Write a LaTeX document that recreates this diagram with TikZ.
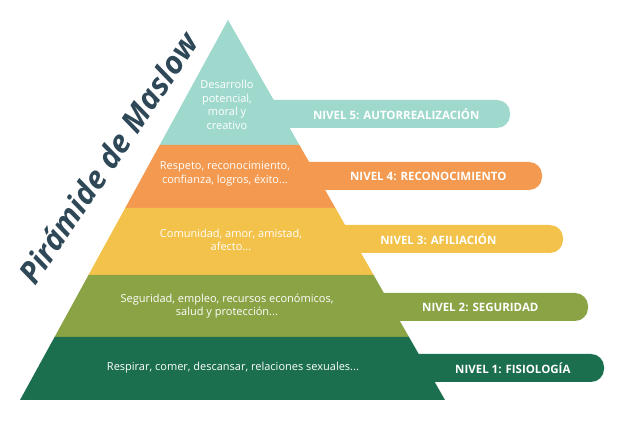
\documentclass[tikz,border=0pt]{standalone}
\usepackage{fontspec}
\setmainfont{Open Sans}
\begin{document}
\begin{tikzpicture}[x=1pt,y=-1pt,
  pill/.style={fill=#1,rounded corners=13pt,draw=none},
  lbl/.style={text=white,font=\bfseries\fontsize{11.5}{13}\selectfont,anchor=east},
  txt/.style={text=white,font=\fontsize{11}{13.5}\selectfont,align=center,inner sep=1pt}]
\definecolor{c5}{HTML}{9FD9CD}
\definecolor{c4}{HTML}{F39A50}
\definecolor{c3}{HTML}{F2C24A}
\definecolor{c2}{HTML}{8AA345}
\definecolor{c1}{HTML}{1B6E4E}
\definecolor{ttl}{HTML}{2E4858}
\fill[white] (0,0) rectangle (640,427);
\useasboundingbox (0,0) rectangle (640,427);
% pills
\fill[pill=c5] (250,100) rectangle (510,128);
\fill[pill=c4] (290,162) rectangle (542,190);
\fill[pill=c3] (320,225) rectangle (563,253);
\fill[pill=c2] (350,293) rectangle (588,321);
\fill[pill=c1] (390,354) rectangle (604,382);
% pyramid layers
\coordinate (apex) at (228,20);
\fill[c5] (apex) -- (159.7,145) -- (299.4,145) -- cycle;
\fill[c4] (159.7,145) -- (125.2,208) -- (335.4,208) -- (299.4,145) -- cycle;
\fill[c3] (125.2,208) -- (88.5,275) -- (373.6,275) -- (335.4,208) -- cycle;
\fill[c2] (88.5,275) -- (54.6,337) -- (409.0,337) -- (373.6,275) -- cycle;
\fill[c1] (54.6,337) -- (20,400) -- (445,400) -- (409.0,337) -- cycle;
% texts
\node[txt] (t5) at (227,105) {Desarrollo\\potencial,\\moral y\\creativo};
\node[txt] (t4) at (225,174) {Respeto, reconocimiento,\\confianza, logros, éxito...};
\node[txt] (t3) at (231,240) {Comunidad, amor, amistad,\\afecto...};
\node[txt] (t2) at (227,306) {Seguridad, empleo, recursos económicos,\\salud y protección...};
\node[txt] (t1) at (233,368) {Respirar, comer, descansar, relaciones sexuales...};
\node[lbl] (l5) at (483,114) {NIVEL 5: AUTORREALIZACIÓN};
\node[lbl] (l4) at (510,176) {NIVEL 4: RECONOCIMIENTO};
\node[lbl] (l3) at (500,239) {NIVEL 3: AFILIACIÓN};
\node[lbl] (l2) at (542,307) {NIVEL 2: SEGURIDAD};
\node[lbl] (l1) at (574,368) {NIVEL 1: FISIOLOGÍA};
\node[text=ttl,font=\bfseries\itshape\fontsize{31}{34}\selectfont,rotate=56] (title) at (108,158) {Pirámide de Maslow};
\end{tikzpicture}
\end{document}
